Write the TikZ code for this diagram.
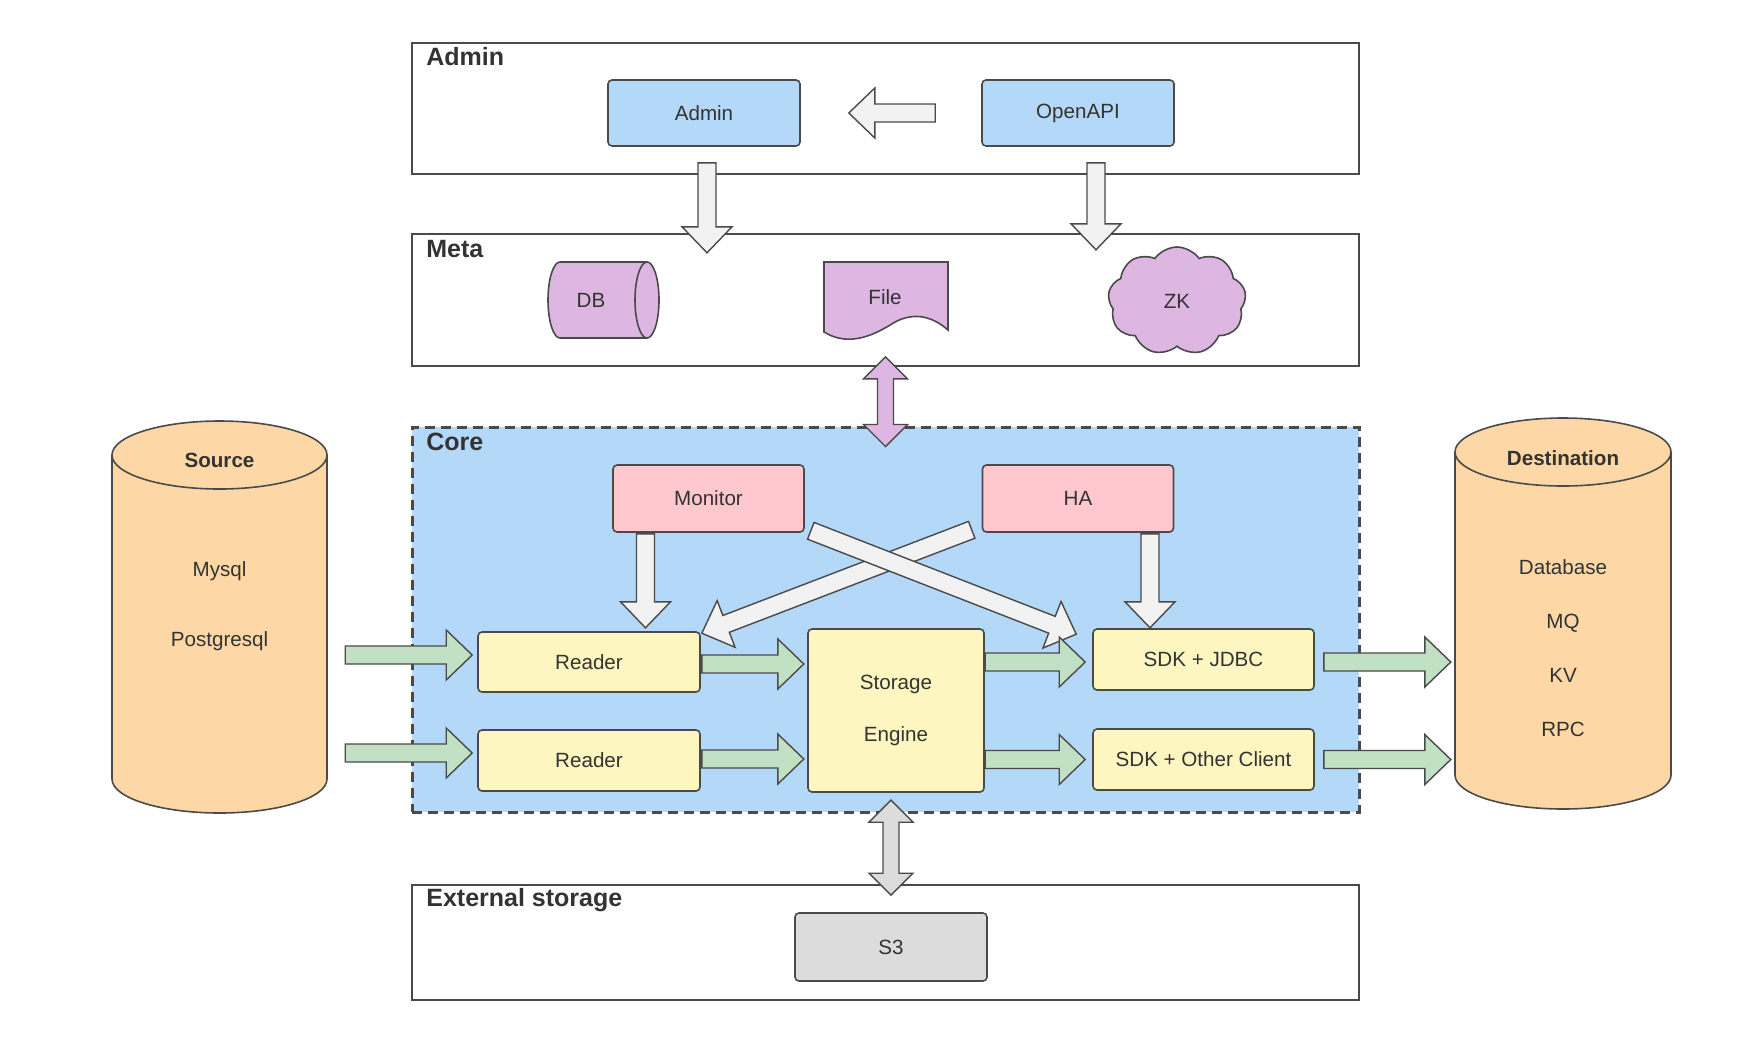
\documentclass[tikz,border=0pt]{standalone}
\usepackage{fontspec}
\setmainfont{Liberation Sans}
\usetikzlibrary{calc,shapes.symbols}

\definecolor{bluefill}{HTML}{B3D8F8}
\definecolor{pinkfill}{HTML}{FFC7CE}
\definecolor{yellowfill}{HTML}{FEF6C0}
\definecolor{purplefill}{HTML}{DDB7E2}
\definecolor{greenfill}{HTML}{C2E0C3}
\definecolor{orangefill}{HTML}{FDD8A6}
\definecolor{grayfill}{HTML}{DCDCDC}
\definecolor{arrowfill}{HTML}{F2F2F2}
\definecolor{linea}{HTML}{4A4A4A}
\definecolor{inchiostro}{HTML}{333333}

% freccia larga da #2 a #3
\newcommand{\fatarrow}[3][]{%
  \draw[fat,#1] let \p1=(#2), \p2=(#3),
    \n1={atan2(\y2-\y1,\x2-\x1)}, \n2={veclen(\x2-\x1,\y2-\y1)} in
    ($(\p1)+({\n1+90}:4.5pt)$) -- ($(\p1)+(\n1:{\n2-13pt})+({\n1+90}:4.5pt)$)
    -- ($(\p1)+(\n1:{\n2-13pt})+({\n1+90}:12.5pt)$) -- (\p2)
    -- ($(\p1)+(\n1:{\n2-13pt})+({\n1-90}:12.5pt)$)
    -- ($(\p1)+(\n1:{\n2-13pt})+({\n1-90}:4.5pt)$)
    -- ($(\p1)+({\n1-90}:4.5pt)$) -- cycle;}

% freccia larga con due punte
\newcommand{\dblarrow}[3][]{%
  \draw[fat,#1] let \p1=(#2), \p2=(#3),
    \n1={atan2(\y2-\y1,\x2-\x1)}, \n2={veclen(\x2-\x1,\y2-\y1)} in
    (\p1) -- ($(\p1)+(\n1:11pt)+({\n1+90}:11pt)$)
    -- ($(\p1)+(\n1:11pt)+({\n1+90}:4pt)$)
    -- ($(\p1)+(\n1:{\n2-11pt})+({\n1+90}:4pt)$)
    -- ($(\p1)+(\n1:{\n2-11pt})+({\n1+90}:11pt)$) -- (\p2)
    -- ($(\p1)+(\n1:{\n2-11pt})+({\n1-90}:11pt)$)
    -- ($(\p1)+(\n1:{\n2-11pt})+({\n1-90}:4pt)$)
    -- ($(\p1)+(\n1:11pt)+({\n1-90}:4pt)$)
    -- ($(\p1)+(\n1:11pt)+({\n1-90}:11pt)$) -- cycle;}

\begin{document}
\begin{tikzpicture}[x=0.5pt, y=-0.5pt,
    layer/.style={draw=linea, line width=0.9pt, fill=white, inner sep=0pt, minimum width=473.5pt},
    block/.style={draw=linea, line width=0.8pt, rounded corners=2pt, inner sep=0pt, align=center,
      text=inchiostro, font=\fontsize{10.3}{12}\selectfont},
    title/.style={anchor=west, inner sep=0pt, text=inchiostro, font=\fontsize{12.5}{15}\selectfont\bfseries},
    txt/.style={inner sep=0pt, align=center, text=inchiostro, font=\fontsize{10.3}{12}\selectfont},
    fat/.style={draw=linea, line width=0.7pt, fill=arrowfill, line join=miter},
    cyl/.style={draw=linea, line width=0.8pt, fill=orangefill},
    metashape/.style={draw=linea, line width=0.8pt, fill=purplefill}]
  \useasboundingbox (0,0) rectangle (1756,1040);

  % livelli
  \node[layer, minimum height=65.5pt] (adminlayer) at (885.5,108.5) {};
  \node[layer, minimum height=66pt] (metalayer) at (885.5,300) {};
  \node[layer, fill=bluefill, line width=1.5pt, dash pattern=on 5pt off 3pt, minimum height=192.5pt] (corelayer) at (885.5,619.5) {};
  \node[layer, minimum height=57.5pt] (extlayer) at (885.5,942.5) {};
  \node[title] (admintitle) at (426,57) {Admin};
  \node[title] (metatitle) at (426,249) {Meta};
  \node[title] (coretitle) at (426,442) {Core};
  \node[title] (exttitle) at (426,900) {External storage};

  % Admin
  \node[block, fill=bluefill, minimum width=96pt, minimum height=33pt] (admin) at (704,113) {Admin};
  \node[block, fill=bluefill, minimum width=96pt, minimum height=33pt] (openapi) at (1078,113) {OpenAPI};

  % Meta
  \draw[metashape] (560,262) -- (647,262) arc[start angle=90, end angle=-90, x radius=6pt, y radius=19pt]
    -- (560,338) arc[start angle=270, end angle=90, x radius=6pt, y radius=19pt] -- cycle;
  \draw[metashape, fill=none] (647,262) arc[start angle=90, end angle=270, x radius=6pt, y radius=19pt];
  \node[txt] (db) at (591,300) {DB};
  \draw[metashape] (824,262) -- (948,262) -- (948,330) .. controls (932,316) and (914,312) .. (895,322)
    .. controls (876,334) and (850,348) .. (824,332) -- cycle;
  \node[txt] (file) at (885,297) {File};
  \node[metashape, cloud, cloud puffs=9, cloud puff arc=110, minimum width=69pt, minimum height=54pt,
    inner sep=0pt, text=inchiostro, font=\fontsize{10.3}{12}\selectfont] (zk) at (1177,301) {ZK};

  % Core
  \node[block, fill=pinkfill, minimum width=95.5pt, minimum height=33.5pt] (monitor) at (708.5,498.5) {Monitor};
  \node[block, fill=pinkfill, minimum width=95.5pt, minimum height=33.5pt] (ha) at (1078,498.5) {HA};
  \node[block, fill=yellowfill, minimum width=111pt, minimum height=30pt] (reader1) at (589,662) {Reader};
  \node[block, fill=yellowfill, minimum width=111pt, minimum height=30.5pt] (reader2) at (589,760.5) {Reader};
  \node[block, fill=yellowfill, minimum width=88pt, minimum height=81.5pt] (storage) at (896,710.5) {Storage\\[14pt]Engine};
  \node[block, fill=yellowfill, minimum width=110.5pt, minimum height=30.5pt] (sdk1) at (1203.5,659.5) {SDK + JDBC};
  \node[block, fill=yellowfill, minimum width=110.5pt, minimum height=30.5pt] (sdk2) at (1203.5,759.5) {SDK + Other Client};

  % External storage
  \node[block, fill=grayfill, minimum width=96pt, minimum height=34pt] (s3) at (891,947) {S3};

  % Source e Destination
  \draw[cyl] (112,455) -- (112,779) arc[start angle=180, end angle=360, x radius=53.75pt, y radius=17pt]
    -- (327,455) arc[start angle=0, end angle=180, x radius=53.75pt, y radius=17pt] -- cycle;
  \draw[cyl, fill=none] (112,455) arc[start angle=180, end angle=360, x radius=53.75pt, y radius=17pt];
  \node[txt, font=\fontsize{10.3}{12}\selectfont\bfseries] (source) at (219.5,460) {Source};
  \node[txt] (sourcelist) at (219.5,606) {Mysql\\[23pt]Postgresql};
  \draw[cyl] (1455,452) -- (1455,775) arc[start angle=180, end angle=360, x radius=54pt, y radius=17pt]
    -- (1671,452) arc[start angle=0, end angle=180, x radius=54pt, y radius=17pt] -- cycle;
  \draw[cyl, fill=none] (1455,452) arc[start angle=180, end angle=360, x radius=54pt, y radius=17pt];
  \node[txt, font=\fontsize{10.3}{12}\selectfont\bfseries] (dest) at (1563,458) {Destination};
  \node[txt] (destlist) at (1563,648) {Database\\[15pt]MQ\\[15pt]KV\\[15pt]RPC};

  % frecce grigie
  \fatarrow{$(openapi.west)+(-46,0)$}{$(admin.east)+(48,0)$}
  \fatarrow{$(admin.south)+(3,16)$}{$(admin.south)+(3,106)$}
  \fatarrow{$(openapi.south)+(18,16)$}{$(openapi.south)+(18,103)$}
  \fatarrow{$(monitor.south)+(-63,1)$}{$(monitor.south)+(-63,95)$}
  \fatarrow{$(ha.south)+(72,1)$}{$(ha.south)+(72,95)$}
  \fatarrow{$(ha.south west)+(-10,-3)$}{$(reader1.north east)+(1,2)$}
  \fatarrow{$(monitor.south east)+(6,-2)$}{$(sdk1.north west)+(-16,6)$}
  \dblarrow[fill=purplefill]{$(metalayer.south)+(0,-10)$}{$(corelayer.north)+(0,21)$}
  \dblarrow[fill=grayfill]{$(s3.north)+(0,-112)$}{$(s3.north)+(0,-17)$}

  % frecce verdi
  \fatarrow[fill=greenfill]{$(reader1.west)+(-132,-7)$}{$(reader1.west)+(-5,-7)$}
  \fatarrow[fill=greenfill]{$(reader2.west)+(-132,-7.5)$}{$(reader2.west)+(-5,-7.5)$}
  \fatarrow[fill=greenfill]{$(reader1.east)+(1,2)$}{$(reader1.east)+(103,2)$}
  \fatarrow[fill=greenfill]{$(reader2.east)+(1,-1.5)$}{$(reader2.east)+(103,-1.5)$}
  \fatarrow[fill=greenfill]{$(sdk1.west)+(-107,2.5)$}{$(sdk1.west)+(-7,2.5)$}
  \fatarrow[fill=greenfill]{$(sdk2.west)+(-107,0)$}{$(sdk2.west)+(-7,0)$}
  \fatarrow[fill=greenfill]{$(sdk1.east)+(9,2.5)$}{$(sdk1.east)+(136,2.5)$}
  \fatarrow[fill=greenfill]{$(sdk2.east)+(9,0)$}{$(sdk2.east)+(136,0)$}
\end{tikzpicture}
\end{document}
